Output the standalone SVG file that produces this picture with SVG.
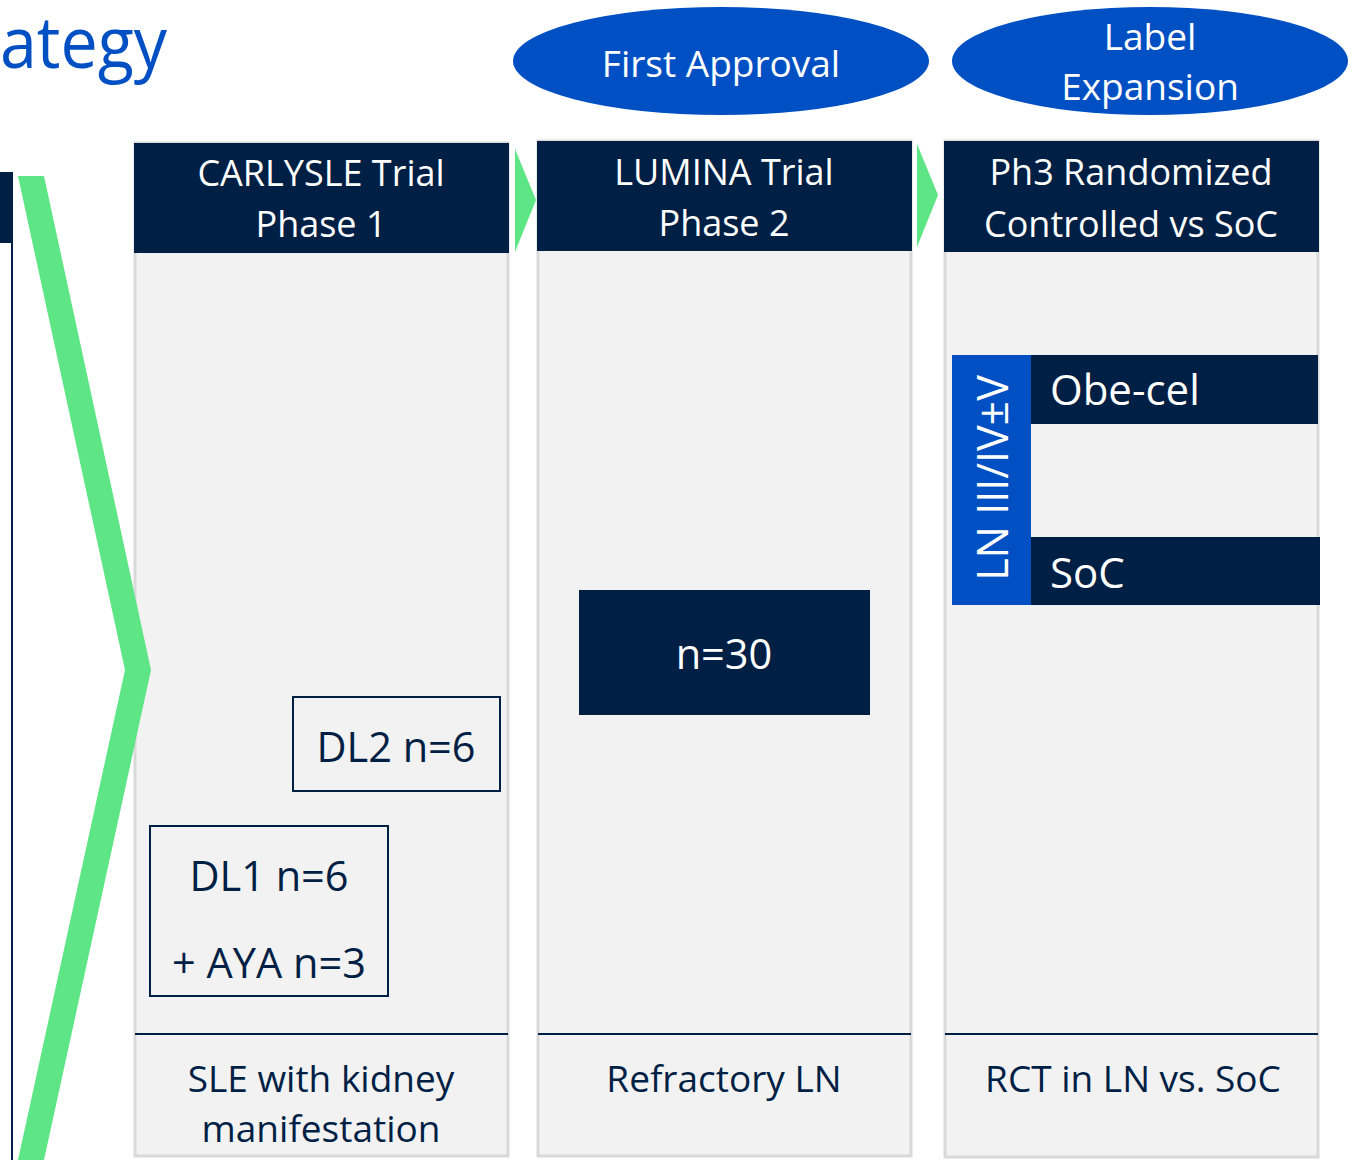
<svg xmlns="http://www.w3.org/2000/svg" width="1365" height="1160" viewBox="0 0 1365 1160">
<style>
text{font-family:"Open Sans","Noto Sans","Liberation Sans",sans-serif}
.w{fill:#ffffff}
.n{fill:#001f45}
.hdr{fill:#001f45}
.panel{fill:#f2f2f2;stroke:#d9d9d9;stroke-width:3}
.sep{stroke:#001f45;stroke-width:2}
.th{font-size:36px}
.tb{font-size:37px}
.te{font-size:37px}
.t42{font-size:41.5px}
.ell{fill:#0050c4}
.green{fill:#5ee585}
</style>
<rect width="1365" height="1160" fill="#ffffff"/>
<g id="title">
<text x="0" y="68" font-size="71" fill="#0050c4" textLength="167" lengthAdjust="spacingAndGlyphs">ategy</text>
</g>
<g id="left-edge">
<rect x="0" y="172" width="13" height="71" fill="#001f45"/>
<rect x="11" y="243" width="2" height="917" fill="#001f45"/>
</g>
<g id="first-approval">
<ellipse class="ell" cx="721" cy="61" rx="208" ry="54"/>
<text class="w te" x="721" y="77" text-anchor="middle">First Approval</text>
</g>
<g id="label-expansion">
<ellipse class="ell" cx="1150" cy="61" rx="198" ry="54"/>
<text class="w te" x="1150" y="50" text-anchor="middle">Label</text>
<text class="w te" x="1150" y="100" text-anchor="middle">Expansion</text>
</g>
<g id="col1">
<rect class="panel" x="135" y="143" width="373" height="1013"/>
<rect class="hdr" x="134" y="143" width="375" height="110"/>
<text class="w th" x="321" y="186" text-anchor="middle">CARLYSLE Trial</text>
<text class="w th" x="321" y="237" text-anchor="middle">Phase 1</text>
<line class="sep" x1="135" y1="1034" x2="508" y2="1034"/>
<text class="n tb" x="321" y="1092" text-anchor="middle">SLE with kidney</text>
<text class="n tb" x="321" y="1142" text-anchor="middle">manifestation</text>
</g>
<g id="dl2">
<rect x="293" y="697" width="207" height="94" fill="none" stroke="#001f45" stroke-width="2"/>
<text class="n t42" x="396" y="762" text-anchor="middle">DL2 n=6</text>
</g>
<g id="dl1">
<rect x="150" y="826" width="238" height="170" fill="none" stroke="#001f45" stroke-width="2"/>
<text class="n t42" x="269" y="891" text-anchor="middle">DL1 n=6</text>
<text class="n t42" x="269" y="978" text-anchor="middle">+ AYA n=3</text>
</g>
<g id="col2">
<rect class="panel" x="538" y="141" width="373" height="1015"/>
<rect class="hdr" x="537" y="141" width="375" height="110"/>
<text class="w th" x="724" y="185" text-anchor="middle">LUMINA Trial</text>
<text class="w th" x="724" y="236" text-anchor="middle">Phase 2</text>
<line class="sep" x1="538" y1="1034" x2="911" y2="1034"/>
<text class="n tb" x="724" y="1092" text-anchor="middle">Refractory LN</text>
</g>
<g id="n30">
<rect x="579" y="590" width="291" height="125" fill="#001f45"/>
<text class="w t42" x="724" y="669" text-anchor="middle">n=30</text>
</g>
<g id="col3">
<rect class="panel" x="945" y="141" width="373" height="1016"/>
<rect class="hdr" x="944" y="141" width="375" height="111"/>
<text class="w th" x="1131" y="185" text-anchor="middle">Ph3 Randomized</text>
<text class="w th" x="1131" y="237" text-anchor="middle">Controlled vs SoC</text>
<line class="sep" x1="945" y1="1034" x2="1318" y2="1034"/>
<text class="n tb" x="1133" y="1092" text-anchor="middle">RCT in LN vs. SoC</text>
</g>
<g id="ln-class">
<rect x="952" y="355" width="79" height="250" fill="#0050c4"/>
<text class="w" font-size="43" transform="translate(1008,478) rotate(-90)" x="0" y="0" text-anchor="middle">LN III/IV±V</text>
</g>
<g id="obe-cel">
<rect x="1031" y="355" width="287" height="69" fill="#001f45"/>
<text class="w" font-size="42" x="1050" y="405">Obe-cel</text>
</g>
<g id="soc">
<rect x="1031" y="537" width="289" height="68" fill="#001f45"/>
<text class="w" font-size="42" x="1050" y="588">SoC</text>
</g>
<g id="connectors">
<polygon class="green" points="18,176 44,176 151,670 44,1160 18,1160 125,670"/>
<polygon class="green" points="515,149 536,200 515,252"/>
<polygon class="green" points="917,144 938,195 917,247"/>
</g>
</svg>
